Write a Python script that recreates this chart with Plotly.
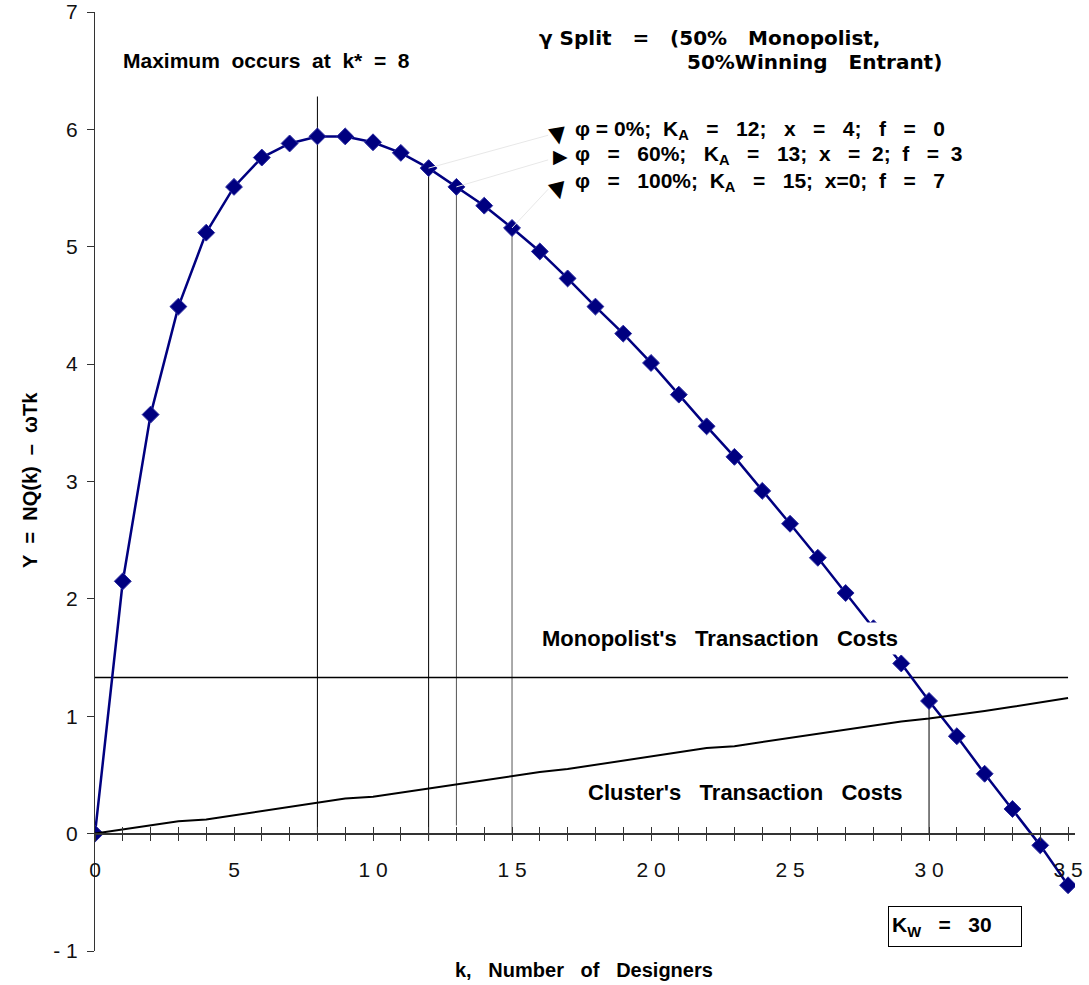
import plotly.graph_objects as go

# ---- data ----
k = list(range(0, 36))
surplus = [0.00, 2.15, 3.57, 4.49, 5.12, 5.51, 5.76, 5.88, 5.94, 5.94,
           5.89, 5.80, 5.67, 5.51, 5.35, 5.16, 4.96, 4.73, 4.49, 4.26,
           4.01, 3.74, 3.47, 3.21, 2.92, 2.64, 2.35, 2.05, 1.75, 1.45,
           1.13, 0.83, 0.51, 0.21, -0.10, -0.44]
cluster_cost = [0.00, 0.035, 0.07, 0.105, 0.12, 0.155, 0.19, 0.225, 0.26, 0.30,
                0.315, 0.35, 0.39, 0.42, 0.455, 0.49, 0.525, 0.55, 0.585, 0.62,
                0.655, 0.69, 0.73, 0.745, 0.78, 0.815, 0.85, 0.885, 0.92, 0.955,
                0.98, 1.01, 1.045, 1.08, 1.115, 1.155]
monopolist_cost = [1.33] * 36

vline_k = [8, 12, 13, 15, 30]
vline_bottom = [0.0, -0.06, 0.07, 0.0, 0.0]
vline_top = [6.28, 5.67, 5.51, 5.16, 1.13]
vline_color = ["black", "black", "#555555", "#555555", "black"]

x_tickvals = list(range(0, 36))
x_ticktext = [("0" if v == 0 else " ".join(str(v))) if v % 5 == 0 else "" for v in x_tickvals]
y_tickvals = [-1, 0, 1, 2, 3, 4, 5, 6, 7]
y_ticktext = ["- 1", "0", "1", "2", "3", "4", "5", "6", "7"]

FONT = "Liberation Sans, Arial, Helvetica, sans-serif"
WIDE = "DejaVu Sans, Verdana, sans-serif"
NAVY = "#000080"
NB = "\u00a0"

fig = go.Figure()

# vertical reference lines
for kv, b, t, c in zip(vline_k, vline_bottom, vline_top, vline_color):
    fig.add_trace(go.Scatter(x=[kv, kv], y=[b, t], mode="lines",
                             line=dict(color=c, width=1), hoverinfo="skip",
                             showlegend=False))

fig.add_trace(go.Scatter(x=k, y=monopolist_cost, mode="lines",
                         line=dict(color="black", width=1.5), showlegend=False))
fig.add_trace(go.Scatter(x=k, y=cluster_cost, mode="lines", xaxis="x2",
                         line=dict(color="black", width=2), showlegend=False))
fig.add_trace(go.Scatter(x=k, y=surplus, mode="lines+markers",
                         line=dict(color=NAVY, width=2.5),
                         marker=dict(symbol="diamond", size=13, color=NAVY,
                                     line=dict(color="#2a2aa0", width=1)),
                         showlegend=False))

# faint leader lines from markers to the legend triangles
leader_k = [12, 13, 15]
leader_end = [(16.3, 5.95), (16.3, 5.74), (16.3, 5.49)]
for lk, (ex, ey) in zip(leader_k, leader_end):
    fig.add_shape(type="line", xref="x", yref="y", x0=lk, y0=surplus[lk],
                  x1=ex, y1=ey, line=dict(color="#e8e8e8", width=1))

# paper coordinates from page pixels (plot area spans page x 95..1075, y 12..951)
def px_x(p):
    return (p - 95) / 980.0

def px_y(p):
    return (951 - p) / 939.0

S = NB + " "
W = NB + NB + " "
bold = dict(family=FONT, size=21, color="black")
title_font = dict(family=WIDE, size=20, color="black")
leg_font = dict(family=FONT, size=21, color="black")
ann = []
ann.append(dict(x=px_x(121), y=px_y(60), xanchor="left", yanchor="middle",
                text=f"<b>Maximum{S}occurs{S}at{S}k*{S}={S}8</b>"))
ann.append(dict(x=px_x(537), y=px_y(38), xanchor="left", yanchor="middle",
                text=f"<b>γ Split{W}={W}(50%{W}Monopolist,</b>", font=title_font))
ann.append(dict(x=px_x(944), y=px_y(62), xanchor="right", yanchor="middle",
                text=f"<b>50%Winning{W}Entrant)</b>", font=title_font))
ann.append(dict(x=px_x(573), y=px_y(130), xanchor="left", yanchor="middle", font=leg_font,
                text=f"<b>φ = 0%;{S}K<sub>A</sub>{W}={W}12;{W}x{W}={W}4;{W}f{W}={W}0</b>"))
ann.append(dict(x=px_x(573), y=px_y(155), xanchor="left", yanchor="middle", font=leg_font,
                text=f"<b>φ{W}={W}60%;{W}K<sub>A</sub>{W}={W}13;{S}x{W}={S}2;{S}f{W}={S}3</b>"))
ann.append(dict(x=px_x(573), y=px_y(182), xanchor="left", yanchor="middle", font=leg_font,
                text=f"<b>φ{W}={W}100%;{S}K<sub>A</sub>{W}={W}15;{S}x=0;{S}f{W}={W}7</b>"))
# triangles
tri_font = dict(family="DejaVu Sans", size=22, color="black")
ann.append(dict(x=px_x(557), y=px_y(134), xanchor="center", yanchor="middle",
                text="▼", textangle=-10, font=tri_font))
ann.append(dict(x=px_x(560), y=px_y(156), xanchor="center", yanchor="middle",
                text="▶", font=dict(family="DejaVu Sans", size=19, color="black")))
ann.append(dict(x=px_x(557), y=px_y(189), xanchor="center", yanchor="middle",
                text="▼", textangle=-14, font=tri_font))
ann.append(dict(x=px_x(720), y=px_y(638), xanchor="center", yanchor="middle",
                text=f"<b>Monopolist's{W}Transaction{W}Costs</b>",
                font=dict(family=FONT, size=22, color="black"),
                bgcolor="white", borderpad=3))
ann.append(dict(x=px_x(745), y=px_y(792), xanchor="center", yanchor="middle",
                text=f"<b>Cluster's{W}Transaction{W}Costs</b>",
                font=dict(family=FONT, size=22, color="black"),
                bgcolor="white", borderpad=3))
ann.append(dict(x=px_x(955), y=px_y(926), xanchor="center", yanchor="middle",
                text=f"<b>K<sub>W</sub>{W}={W}30</b>", align="left",
                width=126, height=33, bordercolor="black", borderwidth=1,
                borderpad=3, bgcolor="white"))
ann.append(dict(x=px_x(584), y=px_y(970), xanchor="center", yanchor="middle",
                text=f"<b>k,{W}Number{W}of{W}Designers</b>",
                font=dict(family=FONT, size=20, color="black")))
ann.append(dict(x=px_x(30), y=px_y(480), xanchor="center", yanchor="middle",
                text=f"<b>Y{S}={S}NQ(k){S}–{S}ωTk</b>", textangle=-90,
                font=dict(family=FONT, size=20, color="black")))
for a in ann:
    a.setdefault("font", bold)
    a.update(xref="paper", yref="paper", showarrow=False)

axis_common = dict(range=[0, 35.25], showgrid=False, zeroline=False,
                   anchor="free", position=0.125, automargin=False)
fig.update_layout(
    width=1089, height=985,
    margin=dict(l=95, r=14, t=12, b=34, autoexpand=False),
    paper_bgcolor="white", plot_bgcolor="white",
    font=dict(family=FONT, color="black"),
    xaxis=dict(**axis_common, showline=True, linecolor="#333333", linewidth=1.5,
               tickmode="array", tickvals=x_tickvals, ticktext=x_ticktext,
               ticks="outside", ticklen=7, tickcolor="#333333", tickwidth=1,
               ticklabelstandoff=10, ticklabeloverflow="allow",
               tickfont=dict(family=FONT, size=21, color="#111111")),
    xaxis2=dict(**axis_common, overlaying="x", showline=False,
                tickmode="array", tickvals=x_tickvals, showticklabels=False,
                ticks="inside", ticklen=7, tickcolor="#333333", tickwidth=1),
    yaxis=dict(range=[-1, 7], showgrid=False, zeroline=False, showline=True,
               automargin=False,
               linecolor="#333333", linewidth=1,
               tickmode="array", tickvals=y_tickvals, ticktext=y_ticktext,
               ticks="outside", ticklen=7, tickcolor="#333333",
               ticklabelstandoff=5, ticklabeloverflow="allow",
               tickfont=dict(family=FONT, size=21, color="#111111")),
    annotations=ann,
)

# remove the default 8px page margin so the figure fills the window exactly
fig.write_html("out.html", config={"displayModeBar": False},
               post_script="document.body.style.margin='0';")
